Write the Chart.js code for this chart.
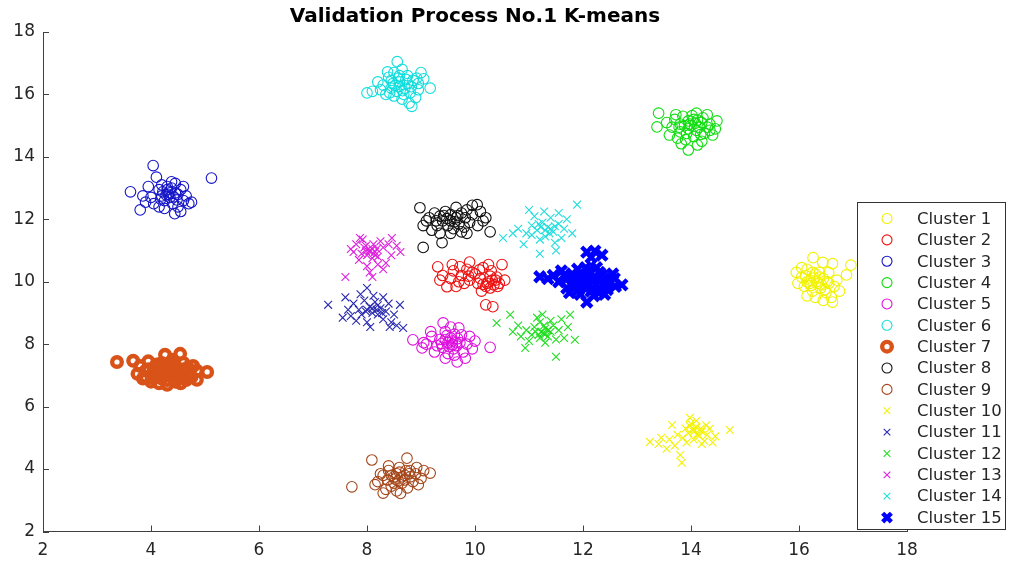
<!DOCTYPE html>
<html>
<head>
<meta charset="utf-8">
<title>Validation Process No.1 K-means</title>
<script src="https://cdn.jsdelivr.net/npm/chart.js@4/dist/chart.umd.min.js"></script>
<style>
  html, body { margin: 0; padding: 0; background: #ffffff; overflow: hidden; }
  canvas { display: block; }
</style>
</head>
<body>
<canvas id="chart" width="1009" height="562"></canvas>
<script>
// ---- data -------------------------------------------------------------
const titleText = 'Validation Process No.1 K-means';
const clusterNames = ['Cluster 1', 'Cluster 2', 'Cluster 3', 'Cluster 4', 'Cluster 5',
  'Cluster 6', 'Cluster 7', 'Cluster 8', 'Cluster 9', 'Cluster 10', 'Cluster 11',
  'Cluster 12', 'Cluster 13', 'Cluster 14', 'Cluster 15'];
const xTicks = [2, 4, 6, 8, 10, 12, 14, 16, 18];
const yTicks = [2, 4, 6, 8, 10, 12, 14, 16, 18];

const cluster1 = [[16.26,10.77],[16.44,10.62],[16.62,10.58],[16.96,10.53],[16.88,10.22],[17.44,10.62],[17.30,9.75],[15.95,10.30],[16.05,10.15],[16.15,10.40],[16.30,10.25],[16.45,10.10],[16.55,9.95],[16.40,9.80],[16.25,9.70],[16.10,9.85],[15.98,9.95],[16.20,10.05],[16.35,9.95],[16.50,9.65],[16.65,9.85],[16.70,10.05],[16.30,9.50],[16.15,9.55],[16.45,9.40],[16.60,9.50],[16.05,10.45],[16.38,10.30],[16.22,9.88],[16.55,10.30],[16.75,9.70],[16.12,10.20],[16.48,9.75],[16.28,10.12],[16.62,9.35],[16.32,10.00],[16.42,9.90],[16.20,9.95],[16.38,10.15],[16.52,10.00],[16.25,10.30],[16.15,10.00]];
const cluster2 = [[9.31,10.48],[9.90,10.63],[10.50,10.55],[10.20,9.26],[10.33,9.20],[9.48,9.84],[9.60,10.35],[9.75,10.20],[9.85,10.40],[10.00,10.25],[10.15,10.45],[10.30,10.35],[10.40,10.15],[10.25,10.00],[10.35,9.90],[10.45,9.95],[10.20,9.85],[10.05,9.95],[9.90,10.05],[9.70,10.00],[9.55,10.10],[9.40,10.20],[9.65,9.85],[9.80,9.95],[10.10,10.10],[10.28,9.80],[10.38,10.05],[9.95,10.30],[10.55,10.05],[9.35,10.05],[10.12,9.70],[9.58,10.55],[10.25,10.55],[9.72,10.48],[10.22,9.95],[10.32,10.05],[10.15,9.92],[10.42,9.85],[10.28,10.18],[9.88,10.18],[10.08,10.38]];
const cluster3 = [[4.04,13.72],[5.12,13.32],[3.62,12.88],[3.80,12.30],[4.44,12.18],[4.10,13.35],[4.30,13.05],[4.45,13.15],[4.55,12.95],[4.20,12.75],[4.35,12.85],[4.60,12.60],[4.70,12.50],[4.25,12.60],[4.15,12.95],[4.00,12.70],[3.90,12.55],[4.50,12.40],[4.65,12.75],[4.40,12.50],[4.30,12.95],[4.20,13.10],[4.35,12.70],[4.45,12.85],[4.05,12.50],[3.85,12.75],[4.55,12.25],[4.25,12.35],[4.60,13.05],[4.15,12.40],[4.38,13.20],[4.28,12.78],[4.48,12.62],[3.95,13.05],[4.75,12.55],[4.32,12.80],[4.22,12.88],[4.42,12.72],[4.38,13.00],[4.18,12.65],[4.50,12.80]];
const cluster4 = [[13.40,15.40],[13.37,14.96],[13.95,14.22],[14.30,15.35],[14.10,15.40],[13.85,15.30],[13.70,15.20],[13.80,15.05],[13.95,15.15],[14.05,15.20],[14.20,15.10],[14.35,15.05],[14.45,14.90],[14.40,14.70],[14.25,14.75],[14.10,14.85],[13.95,14.90],[13.80,14.80],[13.65,14.95],[13.60,14.70],[13.75,14.60],[13.90,14.55],[14.05,14.65],[14.20,14.50],[14.00,15.00],[14.15,14.95],[13.88,15.00],[14.30,14.95],[13.72,15.35],[14.02,15.32],[14.48,15.15],[13.55,15.10],[14.12,14.38],[13.82,14.42],[14.08,15.08],[13.92,14.75],[14.18,14.72],[14.22,15.25],[13.98,15.05],[14.35,14.85],[13.78,14.95],[14.12,15.18]];
const cluster5 = [[8.85,8.14],[10.28,7.90],[9.41,8.68],[9.67,7.43],[9.05,8.05],[9.20,8.25],[9.30,7.95],[9.45,8.40],[9.55,8.20],[9.65,8.05],[9.75,8.30],[9.85,8.00],[9.60,7.85],[9.50,7.70],[9.40,7.90],[9.35,8.15],[9.50,8.05],[9.62,7.65],[9.78,7.75],[9.90,8.25],[9.25,7.75],[9.10,8.00],[9.70,8.52],[9.55,8.55],[9.95,7.85],[9.45,7.55],[9.82,7.55],[10.00,8.10],[9.18,8.40],[9.58,7.98],[9.68,8.18],[9.48,8.28],[9.02,7.88],[9.58,8.10],[9.52,7.92],[9.66,7.95],[9.45,8.15],[9.72,8.05],[9.62,8.32],[9.38,8.02]];
const cluster6 = [[8.56,17.05],[8.10,16.10],[8.83,15.62],[9.17,16.20],[8.00,16.05],[8.30,16.30],[8.40,16.55],[8.50,16.70],[8.65,16.80],[8.75,16.60],[8.85,16.45],[8.95,16.35],[9.05,16.50],[8.60,16.40],[8.45,16.20],[8.35,16.00],[8.55,16.10],[8.70,16.20],[8.80,16.05],[8.90,15.90],[8.65,15.85],[8.50,15.95],[8.25,16.15],[8.45,16.45],[8.75,16.35],[8.60,16.60],[8.95,16.15],[8.20,16.40],[8.68,16.00],[8.52,16.28],[8.38,16.72],[9.00,16.70],[8.78,15.72],[8.60,16.25],[8.72,16.48],[8.48,16.35],[8.82,16.25],[8.58,16.52],[8.42,16.05],[8.92,16.52],[8.66,16.12]];
const cluster7 = [[3.37,7.43],[3.67,7.47],[4.26,7.66],[4.54,7.69],[4.85,6.86],[5.04,7.11],[3.80,7.30],[3.95,7.20],[4.10,7.35],[4.25,7.25],[4.40,7.30],[4.55,7.20],[4.70,7.10],[4.85,7.15],[4.60,7.40],[4.40,7.50],[3.75,7.05],[3.90,6.95],[4.05,7.00],[4.20,6.90],[4.35,7.00],[4.50,6.95],[4.65,6.85],[4.15,6.75],[4.30,6.70],[4.00,6.80],[3.85,6.90],[4.45,6.80],[4.75,6.95],[4.10,7.10],[4.60,7.05],[4.25,7.10],[3.95,7.45],[4.78,7.30],[4.15,7.20],[4.35,7.15],[4.50,7.10],[4.05,7.15],[4.20,7.40],[4.45,7.05],[3.90,7.15],[4.30,6.85],[4.55,6.75],[4.68,7.25],[4.02,6.92],[4.38,7.38]];
const cluster8 = [[8.98,12.37],[9.04,11.10],[9.39,11.25],[10.04,12.47],[10.28,11.60],[9.04,11.80],[9.15,12.05],[9.25,12.20],[9.35,12.10],[9.45,12.25],[9.55,12.15],[9.65,12.05],[9.75,12.20],[9.85,12.30],[9.95,12.15],[10.10,12.25],[10.20,12.05],[9.90,11.90],[9.80,11.75],[9.70,11.85],[9.60,11.70],[9.50,11.80],[9.40,11.95],[9.30,11.80],[9.20,11.65],[9.55,11.55],[9.85,11.55],[10.05,11.80],[9.10,11.95],[9.65,12.38],[10.15,11.95],[9.35,11.55],[9.75,11.60],[9.95,12.45],[9.48,12.02],[9.55,11.95],[9.68,12.12],[9.42,12.12],[9.82,12.05],[9.62,11.92],[9.28,11.95]];
const cluster9 = [[7.72,3.43],[8.09,4.29],[8.74,4.35],[9.17,3.87],[8.30,3.23],[8.20,3.60],[8.30,3.80],[8.40,3.95],[8.50,3.75],[8.60,3.90],[8.70,3.80],[8.80,3.95],[8.90,3.85],[9.00,3.70],[9.05,3.95],[8.85,3.60],[8.65,3.55],[8.45,3.45],[8.35,3.35],[8.55,3.30],[8.75,3.40],[8.95,3.50],[8.25,3.85],[8.40,4.10],[8.60,4.05],[8.70,3.65],[8.50,3.55],[8.80,3.75],[8.15,3.50],[8.62,3.22],[8.92,4.05],[8.38,3.65],[8.55,3.85],[8.65,3.75],[8.52,3.68],[8.78,3.85],[8.45,3.80],[8.72,3.95],[8.58,3.62]];
const cluster10 = [[13.65,5.41],[13.98,5.64],[14.72,5.25],[13.24,4.87],[13.80,4.45],[13.83,4.20],[13.45,5.00],[13.60,4.95],[13.75,5.10],[13.90,5.30],[14.00,5.45],[14.10,5.35],[14.20,5.20],[14.30,5.10],[14.15,5.05],[14.05,4.95],[13.95,5.15],[14.25,4.90],[14.40,4.85],[14.35,5.30],[13.70,4.75],[13.55,4.65],[14.10,5.55],[14.45,5.05],[13.85,5.00],[14.05,5.20],[13.40,4.80],[14.20,4.80],[13.92,4.85],[14.28,5.40],[14.05,5.28],[14.12,5.12],[13.98,5.38],[14.18,5.30]];
const cluster11 = [[7.28,9.26],[8.00,9.80],[8.61,9.26],[8.67,8.52],[8.06,8.55],[7.60,9.50],[7.75,9.30],[7.85,9.10],[7.95,9.40],[8.05,9.20],[8.15,9.35],[8.25,9.15],[8.35,9.05],[8.20,8.95],[8.10,9.00],[7.90,8.95],[7.70,8.90],[7.80,8.75],[8.00,8.70],[8.30,8.80],[8.45,8.70],[8.50,8.95],[8.40,9.30],[7.65,9.10],[7.55,8.85],[8.12,9.55],[7.88,9.60],[8.30,9.50],[8.55,8.60],[8.18,9.10],[7.98,9.05],[8.42,8.55],[8.10,9.15],[8.20,9.25],[8.00,9.10],[8.28,9.00]];
const cluster12 = [[10.65,8.94],[10.40,8.68],[11.76,8.94],[11.85,8.14],[11.50,7.60],[10.93,7.88],[11.26,8.36],[10.80,8.60],[10.95,8.45],[11.10,8.55],[11.20,8.70],[11.30,8.50],[11.40,8.40],[11.35,8.25],[11.20,8.20],[11.05,8.30],[11.45,8.60],[11.55,8.45],[11.60,8.80],[11.15,8.85],[11.00,8.10],[11.30,8.05],[11.65,8.20],[10.85,8.25],[11.25,8.95],[11.40,8.75],[11.12,8.40],[11.50,8.15],[11.72,8.55],[10.70,8.40],[11.22,8.40],[11.30,8.32],[11.18,8.30],[11.35,8.45],[11.28,8.60]];
const cluster13 = [[7.60,10.15],[8.46,11.40],[7.87,11.40],[8.10,10.15],[7.80,11.20],[7.95,11.10],[8.05,11.00],[8.15,10.95],[8.00,10.85],[7.90,10.90],[8.10,10.75],[8.20,10.80],[8.30,11.10],[8.40,11.20],[8.25,11.30],[7.85,10.70],[7.75,10.95],[8.20,10.55],[8.35,10.60],[8.00,10.50],[7.92,11.35],[8.55,11.15],[8.12,11.20],[7.70,11.05],[8.30,10.40],[8.05,10.30],[8.45,10.85],[7.98,11.15],[8.18,11.05],[8.62,10.95],[8.05,10.95],[8.10,11.05],[7.98,10.98],[8.15,10.85]];
const cluster14 = [[10.52,11.40],[11.20,10.90],[11.50,11.00],[11.89,12.47],[10.90,11.20],[10.80,11.70],[10.95,11.55],[11.05,11.80],[11.15,11.65],[11.25,11.90],[11.35,11.75],[11.45,11.60],[11.55,11.85],[11.65,11.70],[11.40,12.05],[11.10,12.10],[11.00,12.30],[11.30,11.45],[11.20,11.35],[11.60,11.40],[11.70,12.00],[10.70,11.55],[11.48,11.25],[11.80,11.55],[11.28,12.25],[11.05,11.50],[11.55,12.20],[11.18,11.85],[11.38,11.55],[11.30,11.65],[11.40,11.70],[11.22,11.75],[11.48,11.78]];
const cluster15 = [[12.07,10.95],[12.22,10.98],[12.35,10.85],[12.15,10.78],[11.20,10.16],[12.72,9.90],[12.07,9.35],[11.45,10.20],[11.60,10.35],[11.70,10.10],[11.80,10.25],[11.90,10.40],[12.00,10.20],[12.10,10.35],[12.20,10.15],[12.30,10.30],[12.40,10.10],[12.50,10.00],[12.60,9.85],[12.45,9.75],[12.30,9.80],[12.15,9.70],[12.00,9.85],[11.85,9.90],[11.70,9.80],[11.55,10.00],[11.95,9.60],[12.20,9.55],[11.85,10.05],[12.25,10.45],[12.40,9.60],[11.35,10.10],[12.55,10.25],[11.75,9.65],[12.05,10.05],[11.95,10.10],[12.10,9.95],[12.25,9.90],[12.35,10.20],[11.65,10.20],[11.80,10.10],[12.05,10.45],[12.45,9.90],[12.15,10.05],[11.92,9.75],[12.30,9.65],[12.58,10.10]];

const clusterPoints = [cluster1, cluster2, cluster3, cluster4, cluster5, cluster6, cluster7,
  cluster8, cluster9, cluster10, cluster11, cluster12, cluster13, cluster14, cluster15];

// ---- marker styles ----------------------------------------------------
const ring = (color) => ({ pointStyle: 'circle', color, radius: 5.3, width: 1.1 });
const cross = (color) => ({ pointStyle: 'crossRot', color, radius: 5.5, width: 1.1 });
const markerStyles = [
  ring('#f2f200'),
  ring('#ee1111'),
  ring('#1515c8'),
  ring('#11dd11'),
  ring('#dd11dd'),
  ring('#11dddd'),
  { pointStyle: 'circle', color: '#d95319', radius: 4.8, width: 4.4 },
  ring('#111111'),
  ring('#a5461a'),
  cross('#f2f200'),
  cross('#2a2ab0'),
  cross('#22dd22'),
  cross('#dd22dd'),
  cross('#22dddd'),
  { pointStyle: 'crossRot', color: '#0000ff', radius: 7.2, width: 4.4 }
];

const datasets = clusterPoints.map((pts, i) => ({
  label: clusterNames[i],
  data: pts.map(([x, y]) => ({ x, y })),
  showLine: false,
  pointStyle: markerStyles[i].pointStyle,
  pointRadius: markerStyles[i].radius,
  pointBorderWidth: markerStyles[i].width,
  borderColor: markerStyles[i].color,
  backgroundColor: 'rgba(0,0,0,0)',
  pointBackgroundColor: 'rgba(0,0,0,0)'
}));

const AXIS_COLOR = '#404040';
const TEXT_COLOR = '#262626';
const FONT = '"DejaVu Sans", "Liberation Sans", Arial, sans-serif';

// Inward tick marks, title and the boxed legend sitting over the plot
const decorations = {
  id: 'decorations',
  afterDraw(chart) {
    const { ctx, chartArea, scales } = chart;
    const xs = scales.x, ys = scales.y;
    ctx.save();

    ctx.strokeStyle = AXIS_COLOR;
    ctx.lineWidth = 1;
    xTicks.forEach(v => {
      const px = Math.round(xs.getPixelForValue(v)) + 0.5;
      ctx.beginPath();
      ctx.moveTo(px, chartArea.bottom);
      ctx.lineTo(px, chartArea.bottom - 6);
      ctx.stroke();
    });
    yTicks.forEach(v => {
      const py = Math.round(ys.getPixelForValue(v)) + 0.5;
      ctx.beginPath();
      ctx.moveTo(chartArea.left, py);
      ctx.lineTo(chartArea.left + 6, py);
      ctx.stroke();
    });

    ctx.fillStyle = '#000000';
    ctx.font = 'bold 20px ' + FONT;
    ctx.textAlign = 'center';
    ctx.textBaseline = 'middle';
    ctx.fillText(titleText, (chartArea.left + chartArea.right) / 2, 17);

    // legend box
    const box = { left: 857.5, top: 202.5, right: 1005.5, bottom: 529.5 };
    ctx.fillStyle = '#ffffff';
    ctx.fillRect(box.left, box.top, box.right - box.left, box.bottom - box.top);
    ctx.strokeStyle = '#333333';
    ctx.lineWidth = 1;
    ctx.strokeRect(box.left, box.top, box.right - box.left, box.bottom - box.top);

    const rowGap = 21.36;
    ctx.font = '16.5px ' + FONT;
    ctx.textAlign = 'left';
    ctx.textBaseline = 'middle';
    clusterNames.forEach((name, i) => {
      const cy = 218.5 + i * rowGap;
      const m = markerStyles[i];
      ctx.save();
      ctx.strokeStyle = m.color;
      ctx.fillStyle = 'rgba(0,0,0,0)';
      ctx.lineWidth = m.width;
      Chart.helpers.drawPoint(ctx, {
        pointStyle: m.pointStyle,
        radius: m.pointStyle === 'circle' ? Math.min(m.radius, 5) : m.radius * 0.85,
        rotation: 0,
        borderWidth: m.width
      }, 887, cy);
      ctx.restore();
      ctx.fillStyle = TEXT_COLOR;
      ctx.fillText(name, 917, cy + 1);
    });

    ctx.restore();
  }
};

new Chart(document.getElementById('chart'), {
  type: 'scatter',
  data: { datasets },
  options: {
    responsive: false,
    animation: false,
    devicePixelRatio: 1,
    events: [],
    layout: { padding: { top: 32, right: 102, bottom: 0, left: 0 } },
    plugins: {
      legend: { display: false },
      title: { display: false },
      tooltip: { enabled: false }
    },
    scales: {
      x: {
        type: 'linear',
        min: 2, max: 18,
        afterFit(scale) { scale.height = 30.5; },
        afterBuildTicks(scale) { scale.ticks = xTicks.map(v => ({ value: v })); },
        grid: { display: true, drawOnChartArea: false, drawTicks: false },
        border: { display: true, color: AXIS_COLOR, width: 1 },
        ticks: {
          color: TEXT_COLOR,
          padding: 9,
          maxRotation: 0,
          font: { family: FONT, size: 17 }
        }
      },
      y: {
        type: 'linear',
        min: 2, max: 18,
        afterFit(scale) { scale.width = 43; },
        afterBuildTicks(scale) { scale.ticks = yTicks.map(v => ({ value: v })); },
        grid: { display: true, drawOnChartArea: false, drawTicks: false },
        border: { display: true, color: AXIS_COLOR, width: 1 },
        ticks: {
          color: TEXT_COLOR,
          padding: 8,
          font: { family: FONT, size: 17 }
        }
      }
    }
  },
  plugins: [decorations]
});
</script>
</body>
</html>
